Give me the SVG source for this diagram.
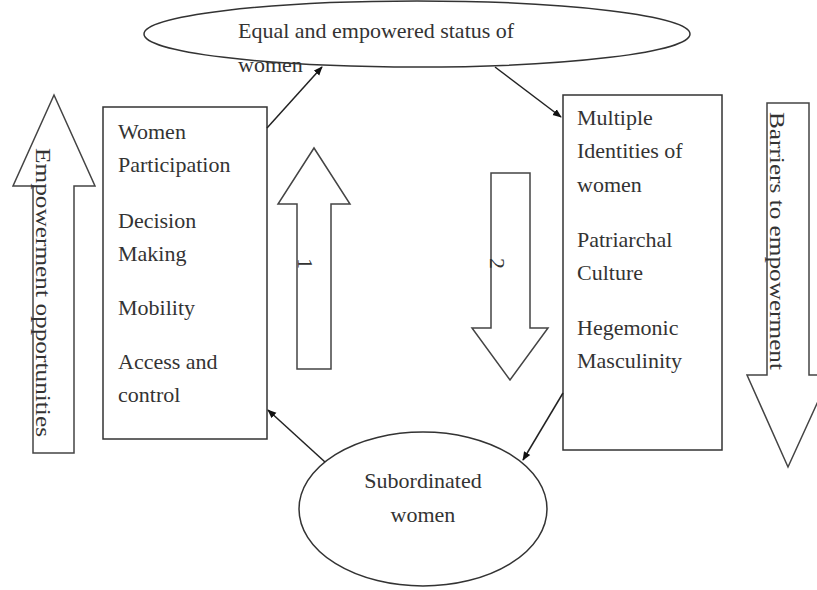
<svg xmlns="http://www.w3.org/2000/svg" width="817" height="590" viewBox="0 0 817 590">
<defs>
<style>
.shape{fill:#fff;stroke:#333;stroke-width:1.5}
.big{fill:#fff;stroke:#444;stroke-width:1.5}
.t{font-family:"Liberation Serif","Times New Roman",serif;font-size:22px;fill:#333}
.c{text-anchor:middle}
.conn{stroke:#222;stroke-width:1.5;fill:none;marker-end:url(#ah)}
</style>
<marker id="ah" viewBox="0 0 10 10" refX="9" refY="5" markerWidth="9" markerHeight="9" orient="auto" markerUnits="userSpaceOnUse">
<path d="M0,1 L10,5 L0,9 z" fill="#111"/>
</marker>
</defs>
<rect width="817" height="590" fill="#fff"/>

<g id="empowerment-opportunities">
<polygon class="big" points="33,453 33,186 13,186 54,95 95,186 74,186 74,453"/>
<text class="t" transform="translate(36,148) rotate(90)" textLength="289" lengthAdjust="spacingAndGlyphs">Empowerment opportunities</text>
</g>

<g id="barriers-to-empowerment">
<polygon class="big" points="767,103 809,103 809,375 830,375 788,467 747,375 767,375"/>
<text class="t" transform="translate(770,112) rotate(90)" textLength="258" lengthAdjust="spacingAndGlyphs">Barriers to empowerment</text>
</g>

<g id="arrow-1">
<polygon class="big" points="297,369 297,204 278,204 314,148 350,204 331,204 331,369"/>
<text class="t" transform="translate(298,258) rotate(90)">1</text>
</g>

<g id="arrow-2">
<polygon class="big" points="491,173 530,173 530,328 548,328 510,380 472,328 491,328"/>
<text class="t" transform="translate(490,258) rotate(90)">2</text>
</g>

<g id="equal-status">
<ellipse class="shape" cx="417" cy="34" rx="273" ry="33"/>
<text class="t" x="238" y="38">Equal and empowered status of</text>
<text class="t" x="238" y="72">women</text>
</g>

<g id="opportunities-box">
<rect class="shape" x="103" y="107" width="164" height="332"/>
<text class="t" x="118" y="139">Women</text>
<text class="t" x="118" y="172">Participation</text>
<text class="t" x="118" y="228">Decision</text>
<text class="t" x="118" y="261">Making</text>
<text class="t" x="118" y="315">Mobility</text>
<text class="t" x="118" y="369">Access and</text>
<text class="t" x="118" y="402">control</text>
</g>

<g id="barriers-box">
<rect class="shape" x="563" y="95" width="159" height="355"/>
<text class="t" x="577" y="125">Multiple</text>
<text class="t" x="577" y="158">Identities of</text>
<text class="t" x="577" y="192">women</text>
<text class="t" x="577" y="247">Patriarchal</text>
<text class="t" x="577" y="280">Culture</text>
<text class="t" x="577" y="335">Hegemonic</text>
<text class="t" x="577" y="368">Masculinity</text>
</g>

<g id="subordinated-women">
<ellipse class="shape" cx="423" cy="509" rx="124" ry="77"/>
<text class="t c" x="423" y="488">Subordinated</text>
<text class="t c" x="423" y="522">women</text>
</g>

<g id="connectors">
<line class="conn" x1="267" y1="128" x2="322" y2="67"/>
<line class="conn" x1="495" y1="67" x2="561" y2="117"/>
<line class="conn" x1="563" y1="393" x2="523" y2="460"/>
<line class="conn" x1="325" y1="462" x2="268" y2="410"/>
</g>
</svg>
